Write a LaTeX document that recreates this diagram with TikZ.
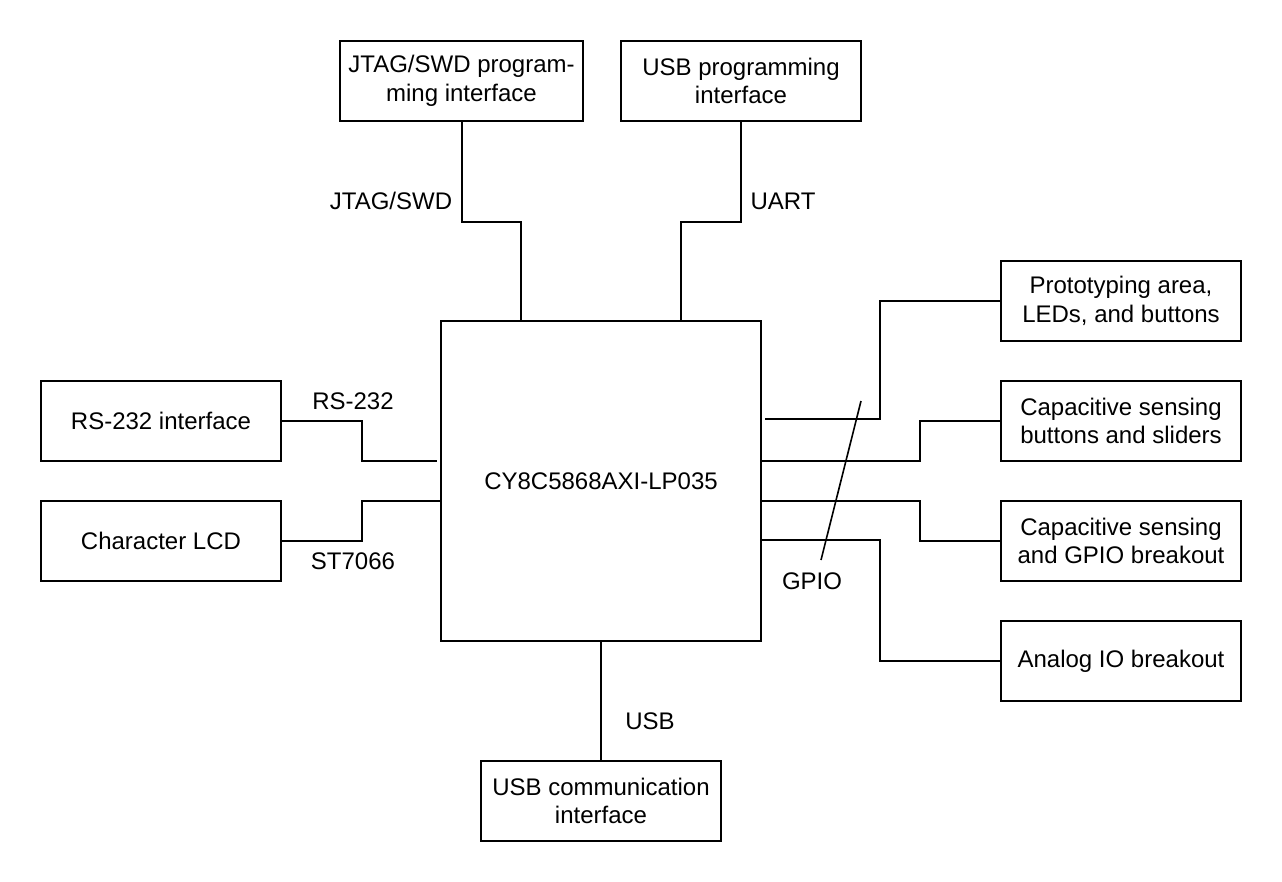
\documentclass[tikz,border=0pt]{standalone}
\usepackage{fontspec}
\setmainfont{Liberation Sans}
\usetikzlibrary{calc}
\tikzset{
  blockbox/.style={draw, line width=1.5pt, rectangle, minimum width=180pt, minimum height=60pt,
    inner sep=0pt, align=center, font=\fontsize{18}{21.6}\selectfont},
  chipbox/.style={blockbox, minimum width=240pt, minimum height=240pt},
  buslabel/.style={inner sep=0pt, font=\fontsize{18}{21.6}\selectfont},
  wire/.style={line width=1.5pt}
}
\begin{document}
\begin{tikzpicture}[x=0.75pt, y=-0.75pt]
\useasboundingbox (0,0) rectangle (1282,882);
% chip
\node[chipbox] (main) at (601,481) {CY8C5868AXI-LP035};
% programming interfaces
\node[blockbox, minimum width=182pt] (jtag) at (461.5,81) {JTAG/SWD program-\\ming interface};
\node[blockbox] (usbprog) at (741,81) {USB programming\\interface};
% left side
\node[blockbox] (rs232) at (161,421) {RS-232 interface};
\node[blockbox] (lcd) at (161,541) {Character LCD};
% right side
\node[blockbox] (proto) at (1121,301) {Prototyping area,\\LEDs, and buttons};
\node[blockbox] (capbtn) at (1121,421) {Capacitive sensing\\buttons and sliders};
\node[blockbox] (capgpio) at (1121,541) {Capacitive sensing\\and GPIO breakout};
\node[blockbox] (analog) at (1121,661) {Analog IO breakout};
% bottom
\node[blockbox] (usbcomm) at (601,801) {USB communication\\interface};

% connectors
\draw[wire] (jtag.south) -- ++(0,100) -| ($(main.north)+(-80,0)$);
\draw[wire] (usbprog.south) -- ++(0,100) -| ($(main.north)+(80,0)$);
\draw[wire] (rs232.east) -- ++(80,0) |- ($(main.west)+(-3,-20)$);
\draw[wire] (lcd.east) -- ++(80,0) |- ($(main.west)+(0,20)$);
\draw[wire] ($(main.east)+(3,-62)$) -| ($(proto.west)+(-120,0)$) -- (proto.west);
\draw[wire] ($(main.east)+(0,-20)$) -| ($(capbtn.west)+(-80,0)$) -- (capbtn.west);
\draw[wire] ($(main.east)+(0,20)$) -| ($(capgpio.west)+(-80,0)$) -- (capgpio.west);
\draw[wire] ($(main.east)+(0,59)$) -| ($(analog.west)+(-120,0)$) -- (analog.west);
\draw[wire] (main.south) -- (usbcomm.north);
% bus slash
\coordinate (slashtop) at (861,401);
\coordinate (slashbot) at (821,560);
\draw[line width=1.2pt] (slashtop) -- (slashbot);

% bus labels
\node[buslabel] (ljtag) at (391,201) {JTAG/SWD};
\node[buslabel] (luart) at (783,201) {UART};
\node[buslabel] (lrs) at (353,401) {RS-232};
\node[buslabel] (llcd) at (353,561) {ST7066};
\node[buslabel] (lgpio) at (812,581) {GPIO};
\node[buslabel] (lusb) at (650,721) {USB};
\end{tikzpicture}
\end{document}
